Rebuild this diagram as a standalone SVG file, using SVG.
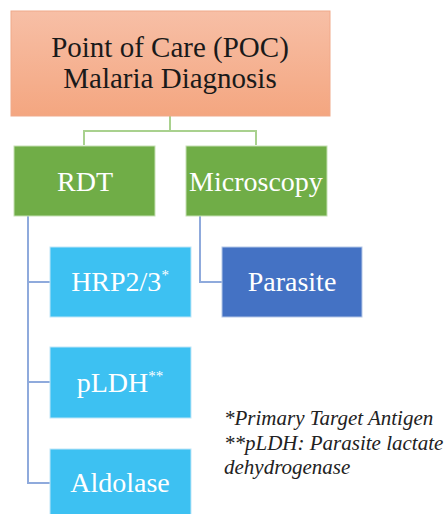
<svg xmlns="http://www.w3.org/2000/svg" width="448" height="514" viewBox="0 0 448 514">
<defs>
<linearGradient id="g" x1="0" y1="0" x2="0" y2="1">
<stop offset="0" stop-color="#f7bfa6"/>
<stop offset="1" stop-color="#f4a680"/>
</linearGradient>
<style>
text{font-family:"Liberation Serif","Times New Roman",serif}
.t{font-size:28px;text-anchor:middle;fill:#ffffff}
.h{font-size:29px;fill:#1a1a1a}
.sup{font-size:15px}
.g{fill:#70ad47;stroke:#c5e0b4;stroke-width:1}
.c{fill:#3dc1f2;stroke:#bfe6f8;stroke-width:1}
.cg{fill:none;stroke:#a9d18e;stroke-width:2}
.cb{fill:none;stroke:#8faadc;stroke-width:2}
.n{font-size:21px;font-style:italic;fill:#222}
</style>
</defs>
<rect width="448" height="514" fill="#ffffff"/>
<g id="connectors">
<path class="cg" d="M170 116V131M84 145V131H256V145"/>
<path class="cb" d="M28 216V483H50M28 282H50M28 382H50"/>
<path class="cb" d="M200 216V282H222"/>
</g>
<g id="poc">
<rect x="11" y="11" width="319" height="105" fill="url(#g)" stroke="#f0a98a" stroke-width="1"/>
<text class="t h" x="170" y="57">Point of Care (POC)</text>
<text class="t h" x="170" y="88">Malaria Diagnosis</text>
</g>
<g id="rdt">
<rect class="g" x="14" y="146" width="141" height="70"/>
<text class="t" x="85" y="191">RDT</text>
</g>
<g id="microscopy">
<rect class="g" x="186" y="146" width="141" height="70"/>
<text class="t" x="256" y="191">Microscopy</text>
</g>
<g id="hrp">
<rect class="c" x="50" y="247" width="141" height="70"/>
<text class="t" x="120" y="291">HRP2/3<tspan class="sup" dy="-11">*</tspan></text>
</g>
<g id="parasite">
<rect x="222" y="247" width="140" height="70" fill="#4472c4" stroke="#b4c7e7" stroke-width="1"/>
<text class="t" x="292" y="291">Parasite</text>
</g>
<g id="pldh">
<rect class="c" x="50" y="347" width="141" height="71"/>
<text class="t" x="120" y="392">pLDH<tspan class="sup" dy="-11">**</tspan></text>
</g>
<g id="aldolase">
<rect class="c" x="50" y="449" width="141" height="70"/>
<text class="t" x="120" y="492">Aldolase</text>
</g>
<g id="notes">
<text class="n" x="224" y="425">*Primary Target Antigen</text>
<text class="n" x="224" y="450">**pLDH: Parasite lactate</text>
<text class="n" x="224" y="474">dehydrogenase</text>
</g>
</svg>
